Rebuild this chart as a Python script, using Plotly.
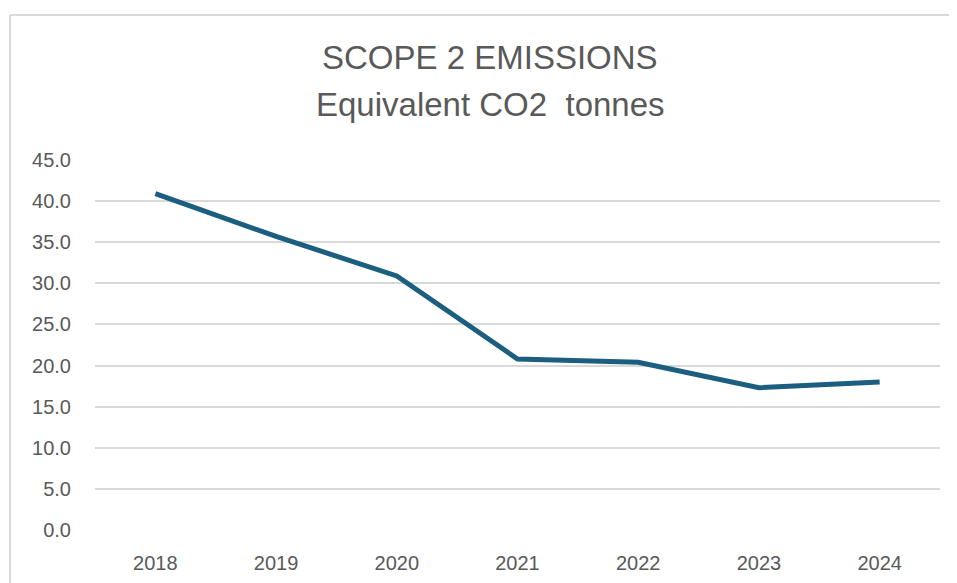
import plotly.graph_objects as go

years = ["2018", "2019", "2020", "2021", "2022", "2023", "2024"]
emissions = [40.9, 35.7, 30.9, 20.8, 20.4, 17.3, 18.0]
y_ticks = [0, 5, 10, 15, 20, 25, 30, 35, 40, 45]
title_lines = ["SCOPE 2 EMISSIONS", "Equivalent CO2  tonnes"]

# page has an 8px body margin, so the figure is drawn shifted by 8px
OFF = 8
W, H = 957 - OFF, 583 - OFF
L, R, T, B = 95 - OFF, 17, 160 - OFF, 53
pw, ph = W - L - R, H - T - B

def px_x(x):  # screen x -> paper
    return (x - OFF - L) / pw

def px_y(y):  # screen y -> paper
    return (H - B - (y - OFF)) / ph

fig = go.Figure()
fig.add_trace(go.Scatter(
    x=years, y=emissions, mode="lines",
    line=dict(color="#1b5e7f", width=5),
    hoverinfo="x+y", showlegend=False,
))

title_font = dict(family="Liberation Sans, Arial, sans-serif", size=33, color="#595959")

fig.update_layout(
    width=W, height=H,
    margin=dict(l=L, r=R, t=T, b=B, autoexpand=False),
    paper_bgcolor="white", plot_bgcolor="white",
    font=dict(family="Liberation Sans, Arial, sans-serif", color="#595959", size=20),
    xaxis=dict(type="category", range=[-0.5, 6.5], showgrid=False, zeroline=False,
               showline=False, ticks="", tickfont=dict(size=20, color="#595959"),
               ticklabelstandoff=19, automargin=False, fixedrange=True),
    yaxis=dict(range=[0, 45], tickvals=y_ticks, tickformat=".1f", showgrid=True,
               gridcolor="#d9d9d9", gridwidth=2, zeroline=False, showline=False,
               ticks="", tickfont=dict(size=20, color="#595959"),
               ticklabelstandoff=23, automargin=False, fixedrange=True),
    shapes=[
        dict(type="line", xref="paper", yref="paper",
             x0=px_x(10), x1=px_x(10), y0=px_y(600), y1=px_y(15),
             line=dict(color="#d9d9d9", width=2)),
        dict(type="line", xref="paper", yref="paper",
             x0=px_x(10), x1=px_x(980), y0=px_y(15), y1=px_y(15),
             line=dict(color="#d9d9d9", width=2)),
    ],
    annotations=[
        dict(text=title_lines[0], xref="paper", yref="paper", x=px_x(490), y=px_y(58),
             xanchor="center", yanchor="middle", showarrow=False, font=title_font),
        dict(text=title_lines[1], xref="paper", yref="paper", x=px_x(490), y=px_y(104),
             xanchor="center", yanchor="middle", showarrow=False, font=title_font),
    ],
)

fig.write_html("out.html")
